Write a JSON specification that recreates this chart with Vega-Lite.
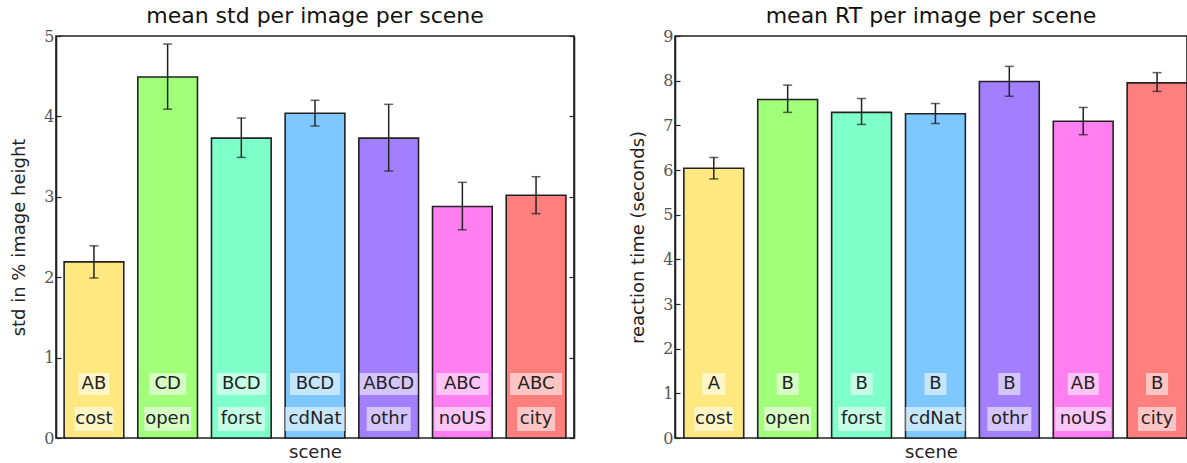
{
  "$schema": "https://vega.github.io/schema/vega-lite/v6.json",
  "padding": {"left": 10, "top": 4, "right": 0, "bottom": 0},
  "background": "white",
  "datasets": {
    "std": [
      {"scene": "cost", "value": 2.19, "lo": 1.99, "hi": 2.39, "letters": "AB"},
      {"scene": "open", "value": 4.49, "lo": 4.09, "hi": 4.9, "letters": "CD"},
      {"scene": "forst", "value": 3.73, "lo": 3.49, "hi": 3.98, "letters": "BCD"},
      {"scene": "cdNat", "value": 4.04, "lo": 3.88, "hi": 4.2, "letters": "BCD"},
      {"scene": "othr", "value": 3.73, "lo": 3.32, "hi": 4.15, "letters": "ABCD"},
      {"scene": "noUS", "value": 2.88, "lo": 2.59, "hi": 3.18, "letters": "ABC"},
      {"scene": "city", "value": 3.02, "lo": 2.79, "hi": 3.25, "letters": "ABC"}
    ],
    "rt": [
      {"scene": "cost", "value": 6.04, "lo": 5.8, "hi": 6.28, "letters": "A"},
      {"scene": "open", "value": 7.58, "lo": 7.29, "hi": 7.9, "letters": "B"},
      {"scene": "forst", "value": 7.29, "lo": 7.02, "hi": 7.6, "letters": "B"},
      {"scene": "cdNat", "value": 7.26, "lo": 7.04, "hi": 7.49, "letters": "B"},
      {"scene": "othr", "value": 7.98, "lo": 7.65, "hi": 8.32, "letters": "B"},
      {"scene": "noUS", "value": 7.09, "lo": 6.79, "hi": 7.4, "letters": "AB"},
      {"scene": "city", "value": 7.95, "lo": 7.76, "hi": 8.18, "letters": "B"}
    ]
  },
  "hconcat": [
    {
      "width": 518,
      "height": 402,
      "title": {"text": "mean std per image per scene", "font": "DejaVu Sans", "fontSize": 22, "fontWeight": "normal", "color": "#111", "offset": 0},
      "data": {"name": "std"},
      "encoding": {
        "x": {"field": "scene", "type": "nominal", "sort": null,
              "scale": {"paddingInner": 0.19, "paddingOuter": 0.11},
              "axis": {"title": "scene", "labels": false, "ticks": false, "domain": false}}
      },
      "layer": [
        {
          "mark": {"type": "bar", "stroke": "#222", "strokeWidth": 1.6},
          "encoding": {
            "y": {"field": "value", "type": "quantitative", "scale": {"domain": [0, 5], "nice": false},
                  "axis": {"title": "std in % image height", "values": [0, 1, 2, 3, 4, 5]}},
            "color": {"field": "scene", "type": "nominal", "legend": null,
                      "scale": {"domain": ["cost", "open", "forst", "cdNat", "othr", "noUS", "city"],
                                "range": ["#ffe87f", "#a2ff7a", "#7fffc9", "#7fc8ff", "#a27fff", "#ff7ff0", "#ff7f7f"]}}
          }
        },
        {
          "mark": {"type": "rule", "color": "#222", "strokeWidth": 1.5},
          "encoding": {
            "y": {"field": "lo", "type": "quantitative", "axis": null},
            "y2": {"field": "hi"}
          }
        },
        {
          "mark": {"type": "tick", "color": "#222", "size": 9, "thickness": 1.5},
          "encoding": {"y": {"field": "lo", "type": "quantitative", "axis": null}}
        },
        {
          "mark": {"type": "tick", "color": "#222", "size": 9, "thickness": 1.5},
          "encoding": {"y": {"field": "hi", "type": "quantitative",
                             "axis": {"orient": "right", "labels": false, "title": null, "values": [0, 1, 2, 3, 4, 5]}}}
        },
        {
          "mark": {"type": "point", "filled": true, "size": 3600, "fill": "white", "opacity": 0.55, "strokeWidth": 0, "yOffset": -54},
          "encoding": {
            "y": {"datum": 0, "type": "quantitative", "axis": null},
            "shape": {"field": "letters", "type": "nominal", "legend": null,
                      "scale": {"domain": ["A", "B", "AB", "CD", "BCD", "ABCD", "ABC", "cost", "open", "forst", "cdNat", "othr", "noUS", "city"],
                                "range": ["M-0.383,-0.367H0.383V0.367H-0.383Z", "M-0.367,-0.367H0.367V0.367H-0.367Z", "M-0.517,-0.367H0.517V0.367H-0.517Z", "M-0.617,-0.367H0.617V0.367H-0.617Z", "M-0.833,-0.367H0.833V0.367H-0.833Z", "M-0.967,-0.367H0.967V0.367H-0.967Z", "M-0.867,-0.367H0.867V0.367H-0.867Z", "M-0.65,-0.4H0.65V0.4H-0.65Z", "M-0.783,-0.4H0.783V0.4H-0.783Z", "M-0.783,-0.4H0.783V0.4H-0.783Z", "M-1,-0.4H1V0.4H-1Z", "M-0.733,-0.4H0.733V0.4H-0.733Z", "M-0.933,-0.4H0.933V0.4H-0.933Z", "M-0.633,-0.4H0.633V0.4H-0.633Z"]}}
          }
        },
        {
          "mark": {"type": "text", "font": "DejaVu Sans", "fontSize": 18, "color": "#222", "baseline": "middle", "yOffset": -54},
          "encoding": {
            "y": {"datum": 0, "type": "quantitative", "axis": null},
            "text": {"field": "letters"}
          }
        },
        {
          "mark": {"type": "point", "filled": true, "size": 3600, "fill": "white", "opacity": 0.55, "strokeWidth": 0, "yOffset": -19},
          "encoding": {
            "y": {"datum": 0, "type": "quantitative", "axis": null},
            "shape": {"field": "scene", "type": "nominal", "legend": null,
                      "scale": {"domain": ["A", "B", "AB", "CD", "BCD", "ABCD", "ABC", "cost", "open", "forst", "cdNat", "othr", "noUS", "city"],
                                "range": ["M-0.383,-0.367H0.383V0.367H-0.383Z", "M-0.367,-0.367H0.367V0.367H-0.367Z", "M-0.517,-0.367H0.517V0.367H-0.517Z", "M-0.617,-0.367H0.617V0.367H-0.617Z", "M-0.833,-0.367H0.833V0.367H-0.833Z", "M-0.967,-0.367H0.967V0.367H-0.967Z", "M-0.867,-0.367H0.867V0.367H-0.867Z", "M-0.65,-0.4H0.65V0.4H-0.65Z", "M-0.783,-0.4H0.783V0.4H-0.783Z", "M-0.783,-0.4H0.783V0.4H-0.783Z", "M-1,-0.4H1V0.4H-1Z", "M-0.733,-0.4H0.733V0.4H-0.733Z", "M-0.933,-0.4H0.933V0.4H-0.933Z", "M-0.633,-0.4H0.633V0.4H-0.633Z"]}}
          }
        },
        {
          "mark": {"type": "text", "font": "DejaVu Sans", "fontSize": 18, "color": "#222", "baseline": "middle", "yOffset": -19},
          "encoding": {
            "y": {"datum": 0, "type": "quantitative", "axis": null},
            "text": {"field": "scene"}
          }
        }
      ],
      "resolve": {"axis": {"y": "independent"}}
    },
    {
      "width": 512,
      "height": 402,
      "title": {"text": "mean RT per image per scene", "font": "DejaVu Sans", "fontSize": 22, "fontWeight": "normal", "color": "#111", "offset": 0},
      "data": {"name": "rt"},
      "encoding": {
        "x": {"field": "scene", "type": "nominal", "sort": null,
              "scale": {"paddingInner": 0.19, "paddingOuter": 0.06, "align": 1},
              "axis": {"title": "scene", "labels": false, "ticks": false, "domain": false}}
      },
      "layer": [
        {
          "mark": {"type": "bar", "stroke": "#222", "strokeWidth": 1.6},
          "encoding": {
            "y": {"field": "value", "type": "quantitative", "scale": {"domain": [0, 9], "nice": false},
                  "axis": {"title": "reaction time (seconds)", "values": [0, 1, 2, 3, 4, 5, 6, 7, 8, 9]}},
            "color": {"field": "scene", "type": "nominal", "legend": null,
                      "scale": {"domain": ["cost", "open", "forst", "cdNat", "othr", "noUS", "city"],
                                "range": ["#ffe87f", "#a2ff7a", "#7fffc9", "#7fc8ff", "#a27fff", "#ff7ff0", "#ff7f7f"]}}
          }
        },
        {
          "mark": {"type": "rule", "color": "#222", "strokeWidth": 1.5},
          "encoding": {
            "y": {"field": "lo", "type": "quantitative", "axis": null},
            "y2": {"field": "hi"}
          }
        },
        {
          "mark": {"type": "tick", "color": "#222", "size": 9, "thickness": 1.5},
          "encoding": {"y": {"field": "lo", "type": "quantitative", "axis": null}}
        },
        {
          "mark": {"type": "tick", "color": "#222", "size": 9, "thickness": 1.5},
          "encoding": {"y": {"field": "hi", "type": "quantitative", "axis": null}}
        },
        {
          "mark": {"type": "point", "filled": true, "size": 3600, "fill": "white", "opacity": 0.55, "strokeWidth": 0, "yOffset": -54},
          "encoding": {
            "y": {"datum": 0, "type": "quantitative", "axis": null},
            "shape": {"field": "letters", "type": "nominal", "legend": null,
                      "scale": {"domain": ["A", "B", "AB", "CD", "BCD", "ABCD", "ABC", "cost", "open", "forst", "cdNat", "othr", "noUS", "city"],
                                "range": ["M-0.383,-0.367H0.383V0.367H-0.383Z", "M-0.367,-0.367H0.367V0.367H-0.367Z", "M-0.517,-0.367H0.517V0.367H-0.517Z", "M-0.617,-0.367H0.617V0.367H-0.617Z", "M-0.833,-0.367H0.833V0.367H-0.833Z", "M-0.967,-0.367H0.967V0.367H-0.967Z", "M-0.867,-0.367H0.867V0.367H-0.867Z", "M-0.65,-0.4H0.65V0.4H-0.65Z", "M-0.783,-0.4H0.783V0.4H-0.783Z", "M-0.783,-0.4H0.783V0.4H-0.783Z", "M-1,-0.4H1V0.4H-1Z", "M-0.733,-0.4H0.733V0.4H-0.733Z", "M-0.933,-0.4H0.933V0.4H-0.933Z", "M-0.633,-0.4H0.633V0.4H-0.633Z"]}}
          }
        },
        {
          "mark": {"type": "text", "font": "DejaVu Sans", "fontSize": 18, "color": "#222", "baseline": "middle", "yOffset": -54},
          "encoding": {
            "y": {"datum": 0, "type": "quantitative", "axis": null},
            "text": {"field": "letters"}
          }
        },
        {
          "mark": {"type": "point", "filled": true, "size": 3600, "fill": "white", "opacity": 0.55, "strokeWidth": 0, "yOffset": -19},
          "encoding": {
            "y": {"datum": 0, "type": "quantitative", "axis": null},
            "shape": {"field": "scene", "type": "nominal", "legend": null,
                      "scale": {"domain": ["A", "B", "AB", "CD", "BCD", "ABCD", "ABC", "cost", "open", "forst", "cdNat", "othr", "noUS", "city"],
                                "range": ["M-0.383,-0.367H0.383V0.367H-0.383Z", "M-0.367,-0.367H0.367V0.367H-0.367Z", "M-0.517,-0.367H0.517V0.367H-0.517Z", "M-0.617,-0.367H0.617V0.367H-0.617Z", "M-0.833,-0.367H0.833V0.367H-0.833Z", "M-0.967,-0.367H0.967V0.367H-0.967Z", "M-0.867,-0.367H0.867V0.367H-0.867Z", "M-0.65,-0.4H0.65V0.4H-0.65Z", "M-0.783,-0.4H0.783V0.4H-0.783Z", "M-0.783,-0.4H0.783V0.4H-0.783Z", "M-1,-0.4H1V0.4H-1Z", "M-0.733,-0.4H0.733V0.4H-0.733Z", "M-0.933,-0.4H0.933V0.4H-0.933Z", "M-0.633,-0.4H0.633V0.4H-0.633Z"]}}
          }
        },
        {
          "mark": {"type": "text", "font": "DejaVu Sans", "fontSize": 18, "color": "#222", "baseline": "middle", "yOffset": -19},
          "encoding": {
            "y": {"datum": 0, "type": "quantitative", "axis": null},
            "text": {"field": "scene"}
          }
        }
      ],
      "resolve": {"axis": {"y": "independent"}}
    }
  ],
  "spacing": 101,
  "bounds": "flush",
  "resolve": {"scale": {"color": "independent", "shape": "independent"}},
  "config": {
    "view": {"stroke": "#222", "strokeWidth": 1.6},
    "axis": {
      "grid": false,
      "domainColor": "#222",
      "domainWidth": 1.6,
      "tickColor": "#222",
      "tickWidth": 1.2,
      "tickSize": -5,
      "labelFont": "DejaVu Serif",
      "labelFontSize": 16,
      "labelColor": "#555",
      "labelPadding": 7,
      "titleFont": "DejaVu Sans",
      "titleFontSize": 18,
      "titleFontWeight": "normal",
      "titleColor": "#222",
      "titlePadding": 15
    },
    "axisX": {"titlePadding": 5}
  }
}
